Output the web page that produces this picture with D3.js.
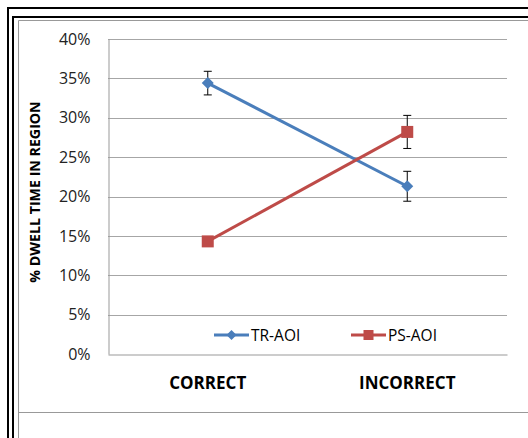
<!DOCTYPE html>
<html><head><meta charset="utf-8">
<script src="https://cdn.jsdelivr.net/npm/d3@7"></script>
<style>body{margin:0;background:#fff;} svg{display:block;}</style>
</head><body>
<svg id="c" width="528" height="438"></svg>
<script>
const categories = ["CORRECT", "INCORRECT"];
const seriesNames = ["TR-AOI", "PS-AOI"];
const trValues = [0.344, 0.213];
const psValues = [0.143, 0.282];
const trErrors = [0.015, 0.019];
const psErrors = [0.004, 0.021];
const yTicks = [0, 0.05, 0.10, 0.15, 0.20, 0.25, 0.30, 0.35, 0.40];
const yTitle = "% DWELL TIME IN REGION";

const svg = d3.select("#c");
const font = "'Open Sans', sans-serif";

// frames
svg.append("path").attr("d","M8,438 V8 H528").attr("fill","none").attr("stroke","#000").attr("stroke-width",2);
svg.append("path").attr("d","M13,438 V17 H528").attr("fill","none").attr("stroke","#000").attr("stroke-width",2);
svg.append("path").attr("d","M18.5,438 V20.5 H528").attr("fill","none").attr("stroke","#999").attr("stroke-width",1);
svg.append("line").attr("x1",18).attr("x2",528).attr("y1",412.5).attr("y2",412.5).attr("stroke","#999");

const L = 108, R = 507, T = 39, B = 354;
const x = d3.scaleBand().domain(categories).range([L, R]);
const y = d3.scaleLinear().domain([0, 0.40]).range([B, T]);

// gridlines
svg.append("g").selectAll("line").data(yTicks.slice(1)).join("line")
  .attr("x1", L).attr("x2", R)
  .attr("y1", d => Math.round(y(d)) + 0.5).attr("y2", d => Math.round(y(d)) + 0.5)
  .attr("stroke", "#a6a6a6").attr("stroke-width", 1);

// y axis
const ya = d3.axisLeft(y).tickValues(yTicks).tickFormat(d3.format(".0%")).tickSize(0).tickPadding(18);
const gy = svg.append("g").attr("transform", `translate(${L+0.5},0)`).call(ya);
gy.select(".domain").attr("stroke", "#999");
gy.selectAll("text").attr("font-family", font).attr("font-size", 16).attr("fill", "#222");

// x axis
const xa = d3.axisBottom(x).tickSize(0).tickPadding(22);
const gx = svg.append("g").attr("transform", `translate(0,${B+0.5})`).call(xa);
gx.select(".domain").attr("stroke", "#999");
gx.selectAll("text").attr("font-family", font).attr("font-size", 17).attr("font-weight", "bold").attr("fill", "#000");

// y title
svg.append("text").attr("transform", `translate(40,${192}) rotate(-90)`)
  .attr("text-anchor", "middle").attr("font-family", font).attr("font-size", 14.2)
  .attr("font-weight", "bold").attr("fill", "#000").text(yTitle);

const series = [
  {name: seriesNames[0], values: trValues, errors: trErrors, color: "#4a7ebb", marker: "diamond"},
  {name: seriesNames[1], values: psValues, errors: psErrors, color: "#be4b48", marker: "square"}
];
const cx = c => x(c) + x.bandwidth() / 2;
const line = d3.line().x(d => cx(d.c)).y(d => y(d.v));

function drawMarker(g, type, px, py, color) {
  if (type === "diamond") {
    g.append("path").attr("d", `M${px},${py-6} L${px+6},${py} L${px},${py+6} L${px-6},${py} Z`).attr("fill", color);
  } else {
    g.append("rect").attr("x", px-6).attr("y", py-6).attr("width", 12).attr("height", 12).attr("fill", color);
  }
}

series.forEach(s => {
  const pts = categories.map((c, i) => ({c, v: s.values[i], e: s.errors[i]}));
  svg.append("path").datum(pts).attr("d", line).attr("fill", "none")
    .attr("stroke", s.color).attr("stroke-width", 3);
  const g = svg.append("g");
  pts.forEach(p => {
    const px = cx(p.c);
    const y1 = y(p.v + p.e), y2 = y(p.v - p.e);
    g.append("line").attr("x1", px).attr("x2", px).attr("y1", y1).attr("y2", y2).attr("stroke", "#000").attr("stroke-width", 1);
    g.append("line").attr("x1", px-4).attr("x2", px+4).attr("y1", y1).attr("y2", y1).attr("stroke", "#000").attr("stroke-width", 1);
    g.append("line").attr("x1", px-4).attr("x2", px+4).attr("y1", y2).attr("y2", y2).attr("stroke", "#000").attr("stroke-width", 1);
  });
  pts.forEach(p => drawMarker(svg.append("g"), s.marker, cx(p.c), y(p.v), s.color));
});

// legend
const legX = [214, 351];
series.forEach((s, i) => {
  const lx = legX[i], ly = 335;
  svg.append("line").attr("x1", lx).attr("x2", lx+35).attr("y1", ly).attr("y2", ly)
    .attr("stroke", s.color).attr("stroke-width", 3);
  const g = svg.append("g");
  if (s.marker === "diamond") {
    g.append("path").attr("d", `M${lx+17.5},${ly-5} L${lx+22.5},${ly} L${lx+17.5},${ly+5} L${lx+12.5},${ly} Z`).attr("fill", s.color);
  } else {
    g.append("rect").attr("x", lx+12.5).attr("y", ly-5).attr("width", 10).attr("height", 10).attr("fill", s.color);
  }
  svg.append("text").attr("x", lx+37).attr("y", ly+5.5).attr("font-family", font).attr("font-size", 15.5)
    .attr("fill", "#000").text(s.name);
});
</script>
</body></html>
